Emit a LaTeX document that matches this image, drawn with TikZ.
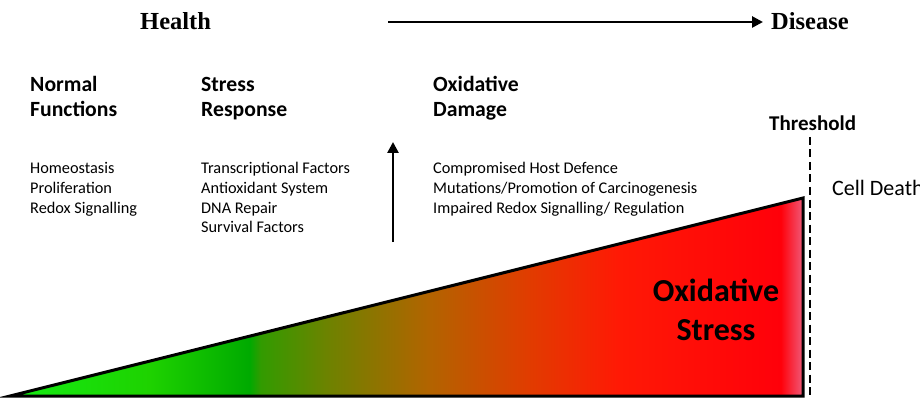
\documentclass[tikz,border=0pt]{standalone}
\usepackage{fontspec}
\setmainfont{Carlito}
\newfontfamily\hfont{Liberation Serif}
\usetikzlibrary{arrows.meta}
\definecolor{ga}{RGB}{20,235,20}
\definecolor{gb}{RGB}{30,210,0}
\definecolor{gc}{RGB}{0,170,0}
\definecolor{gd}{RGB}{50,155,0}
\definecolor{ge}{RGB}{110,130,0}
\definecolor{gf}{RGB}{178,100,0}
\definecolor{gg}{RGB}{225,60,0}
\definecolor{gh}{RGB}{255,25,5}
\definecolor{gi}{RGB}{255,0,10}
\definecolor{gj}{RGB}{240,90,120}
\pgfdeclarehorizontalshading{stressgrad}{100bp}{%
 color(0bp)=(ga); color(25bp)=(ga); color(33.8bp)=(gb); color(40.1bp)=(gc);
 color(40.8bp)=(gd); color(45.1bp)=(ge); color(51.4bp)=(gf); color(57.7bp)=(gg);
 color(63.4bp)=(gh); color(73.6bp)=(gi); color(75bp)=(gj); color(100bp)=(gj)}
\tikzset{
  head/.style={font=\fontsize{21.7}{25}\selectfont\bfseries, anchor=base west, inner sep=0pt},
  item/.style={font=\fontsize{16.3}{19}\selectfont, anchor=base west, inner sep=0pt},
  title/.style={font=\hfont\fontsize{24.5}{28}\selectfont\bfseries, anchor=base west, inner sep=0pt},
  bigarrow/.style={line width=2.6pt, -{Triangle[length=11pt,width=11pt]}},
}
\begin{document}
\begin{tikzpicture}[x=1pt,y=-1pt]
\useasboundingbox (0,0) rectangle (920,398);
% titles
\node[title] (health) at (140,30) {Health};
\node[title] (disease) at (771,30) {Disease};
\coordinate (ha) at (388,22);
\coordinate (hb) at (763,22);
\draw[bigarrow] (ha) -- (hb);
% columns
\node[head] (n1) at (30,92) {Normal};
\node[head] (n2) at (30,117) {Functions};
\node[head] (s1) at (201,92) {Stress};
\node[head] (s2) at (201,117) {Response};
\node[head] (o1) at (433,92) {Oxidative};
\node[head] (o2) at (433,117) {Damage};
\node[item] (a1) at (30,174) {Homeostasis};
\node[item] (a2) at (30,193.5) {Proliferation};
\node[item] (a3) at (30,213) {Redox Signalling};
\node[item] (b1) at (201,174) {Transcriptional Factors};
\node[item] (b2) at (201,193.5) {Antioxidant System};
\node[item] (b3) at (201,213) {DNA Repair};
\node[item] (b4) at (201,232.5) {Survival Factors};
\node[item] (c1) at (433,174) {Compromised Host Defence};
\node[item] (c2) at (433,193.5) {Mutations/Promotion of Carcinogenesis};
\node[item] (c3) at (433,213) {Impaired Redox Signalling/ Regulation};
\coordinate (va) at (393,242);
\coordinate (vb) at (393,142);
\draw[bigarrow] (va) -- (vb);
% triangle
\coordinate (t1) at (10,396);
\coordinate (t2) at (803,198);
\coordinate (t3) at (803,396);
\shade[shading=stressgrad] (t1) -- (t2) -- (t3) -- cycle;
\draw[line width=3pt, line join=miter] (t1) -- (t2) -- (t3) -- cycle;
\node[font=\fontsize{32}{38}\selectfont\bfseries, anchor=base, inner sep=0pt] (ox) at (716,301) {Oxidative};
\node[font=\fontsize{32}{38}\selectfont\bfseries, anchor=base, inner sep=0pt] (st) at (716,340) {Stress};
% threshold
\node[font=\fontsize{21}{25}\selectfont\bfseries, anchor=base west, inner sep=0pt] (th) at (769,131) {Threshold};
\coordinate (da) at (810,137);
\coordinate (db) at (810,398);
\draw[line width=2.4pt, dash pattern=on 8pt off 4.5pt] (da) -- (db);
\node[font=\fontsize{22}{26}\selectfont, anchor=base west, inner sep=0pt] (cd) at (832,196) {Cell Death};
\end{tikzpicture}
\end{document}
